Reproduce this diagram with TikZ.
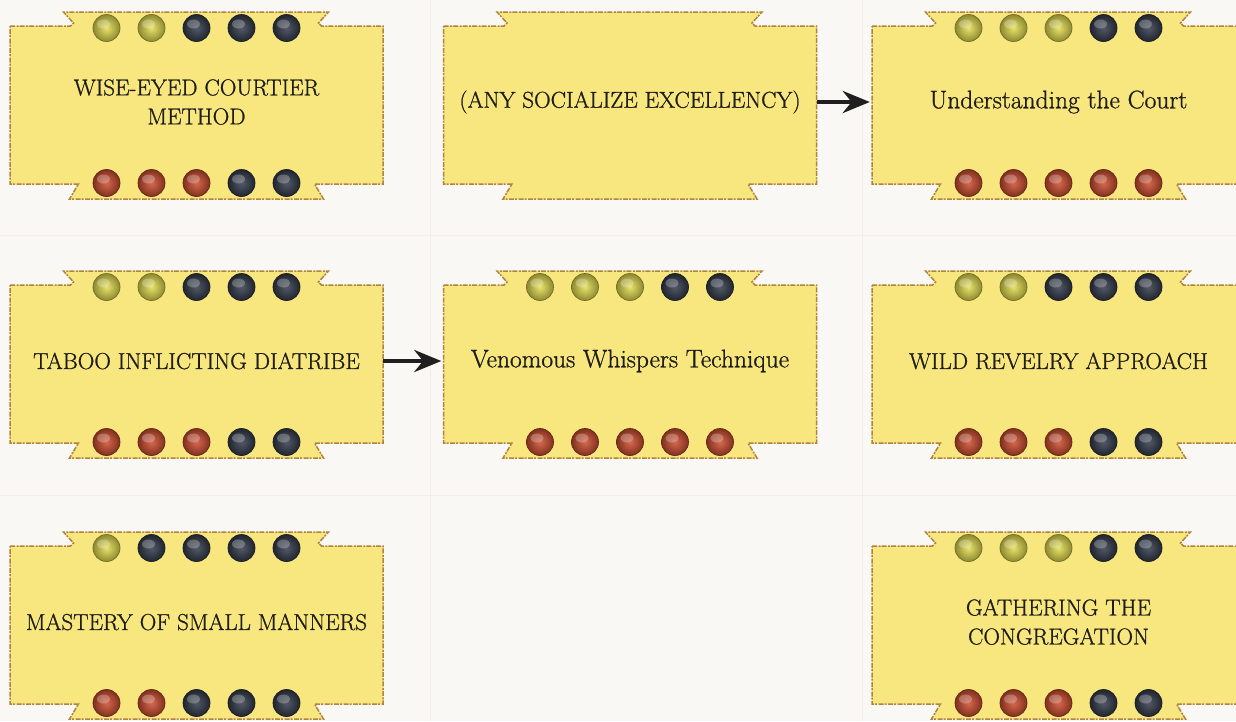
\documentclass[tikz,border=0pt]{standalone}
\usepackage{fontspec}
\newfontfamily\boardfont{Latin Modern Roman}[FakeBold=0.9]
\usetikzlibrary{arrows.meta}
\definecolor{bg}{HTML}{FAF8F4}
\definecolor{gridc}{HTML}{F2EFE9}
\definecolor{boardfill}{HTML}{F8E67F}
\definecolor{boardedge}{HTML}{B0843C}
\definecolor{gemY}{HTML}{E4DE50}
\definecolor{gemD}{HTML}{343C4C}
\definecolor{gemR}{HTML}{CF4E30}
\definecolor{ink}{HTML}{1E1C17}
\tikzset{
  boardshape/.style={fill=boardfill, draw=boardedge, line width=1.5pt,
    dash pattern=on 5pt off 1.5pt on 2pt off 1pt},
  boardtext/.style={minimum width=373pt, minimum height=158pt, inner sep=0pt,
    text=ink, font=\boardfont\fontsize{23}{29}\selectfont, align=center},
  lowertext/.style={font=\boardfont\fontsize{25.5}{29}\selectfont},
  gem/.style={circle, minimum size=27pt, inner sep=0pt,
    inner color=#1!85!white, outer color=#1!62!black,
    draw=#1!50!black, line width=0.7pt,
    path picture={\fill[white, opacity=0.25]
      ([shift={(-3pt,4pt)}]path picture bounding box.center) ellipse (6.5pt and 4.5pt);}},
  link/.style={line width=4.5pt, draw=black!88, -{Stealth[length=27pt,width=22pt]}}
}
% #1 extra style, #2 name, #3 centre x, #4 centre y, #5 text
\newcommand\kboard[5][]{%
  \begin{scope}[shift={(#3,#4)}]
    \path[boardshape] (-186.5,-79) -- (-126,-79) -- (-123,-82) -- (-133,-93)
      -- (132,-93) -- (122,-82) -- (125,-79) -- (186.5,-79) -- (186.5,79)
      -- (118,79) -- (127,94) -- (-127,94) -- (-118,79) -- (-186.5,79) -- cycle;
  \end{scope}
  \node[boardtext, #1] (#2) at (#3,#4-3) {#5};
}
% #1 name, #2 centre x, #3 centre y, #4 yellow gems on top, #5 red gems below
\newcommand\kgems[5]{%
  \foreach \i in {1,...,5}{%
    \ifnum\i>#4\relax\def\gc{gemD}\else\def\gc{gemY}\fi
    \node[gem=\gc] (#1-t\i) at ({#2+(\i-3)*45},{#3-77}) {};
    \ifnum\i>#5\relax\def\gc{gemD}\else\def\gc{gemR}\fi
    \node[gem=\gc] (#1-b\i) at ({#2+(\i-3)*45},{#3+78}) {};
  }%
}
\begin{document}
\begin{tikzpicture}[x=1pt, y=-1pt]
  \useasboundingbox (0,0) rectangle (1236,721);
  \clip (0,0) rectangle (1236,721);
  \fill[bg] (0,0) rectangle (1236,721);
  \draw[gridc, line width=1pt] (430,0) -- (430,721) (862,0) -- (862,721)
    (0,235) -- (1236,235) (0,495) -- (1236,495);

  \kboard{wise}{196.5}{105}{WISE-EYED COURTIER\\METHOD}
  \kgems{wise}{196.5}{105}{2}{3}
  \kboard{any}{630}{105}{(ANY SOCIALIZE EXCELLENCY)}
  \kboard[lowertext]{court}{1058.5}{105}{Understanding the Court}
  \kgems{court}{1058.5}{105}{3}{5}
  \kboard{taboo}{196.5}{364}{TABOO INFLICTING DIATRIBE}
  \kgems{taboo}{196.5}{364}{2}{3}
  \kboard[lowertext]{venom}{630}{364}{Venomous Whispers Technique}
  \kgems{venom}{630}{364}{3}{5}
  \kboard{wild}{1058.5}{364}{WILD REVELRY APPROACH}
  \kgems{wild}{1058.5}{364}{2}{3}
  \kboard{manners}{196.5}{625}{MASTERY OF SMALL MANNERS}
  \kgems{manners}{196.5}{625}{1}{2}
  \kboard{gather}{1058.5}{625}{GATHERING THE\\CONGREGATION}
  \kgems{gather}{1058.5}{625}{3}{3}

  \draw[link] (any.east) -- ([xshift=-2pt]court.west);
  \draw[link] (taboo.east) -- ([xshift=-2pt]venom.west);
\end{tikzpicture}
\end{document}
